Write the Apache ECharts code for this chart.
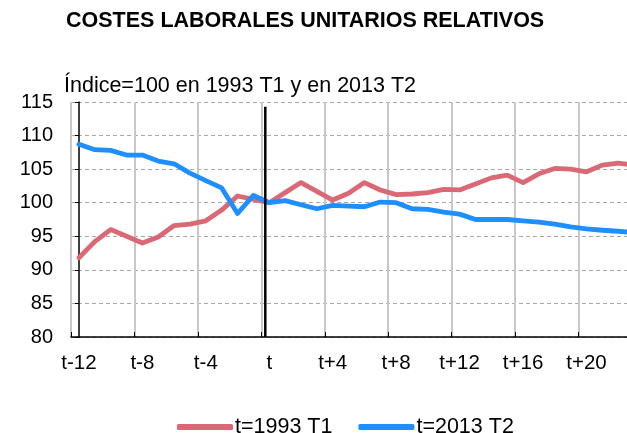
<!DOCTYPE html>
<html>
<head>
<meta charset="utf-8">
<script src="https://cdn.jsdelivr.net/npm/echarts@6/dist/echarts.min.js"></script>
<style>html,body{margin:0;padding:0;background:#fff;overflow:hidden}#c{width:642px;height:433px}</style>
</head>
<body>
<div id="c"></div>
<script>
const categories = ['t-12','t-11','t-10','t-9','t-8','t-7','t-6','t-5','t-4','t-3','t-2','t-1','t',
  't+1','t+2','t+3','t+4','t+5','t+6','t+7','t+8','t+9','t+10','t+11','t+12','t+13','t+14','t+15',
  't+16','t+17','t+18','t+19','t+20','t+21','t+22','t+23'];
const series1993 = [91.8,94.2,96.0,95.0,94.0,94.9,96.6,96.8,97.3,98.9,101.0,100.5,100.0,
  101.5,103.0,101.7,100.4,101.4,103.0,101.9,101.2,101.3,101.5,102.0,101.9,102.8,103.7,104.1,
  103.0,104.3,105.1,105.0,104.6,105.6,105.9,105.6];
const series2013 = [108.7,107.9,107.8,107.1,107.1,106.2,105.8,104.4,103.3,102.2,98.4,101.1,100.0,
  100.3,99.7,99.1,99.6,99.5,99.4,100.1,100.0,99.1,99.0,98.6,98.3,97.5,97.5,97.5,97.3,97.1,
  96.8,96.4,96.1,95.9,95.75,95.55];
const seriesNames = ['t=1993 T1','t=2013 T2'];
const yTicks = [80,85,90,95,100,105,110,115];
const dividerAt = 11.75;        // position of the vertical marker, in category index units
const dividerRange = [80, 114.3];

const FONT = 'Liberation Sans, Arial, sans-serif';
const chart = echarts.init(document.getElementById('c'), null, {renderer:'canvas'});
chart.setOption({
  animation:false,
  backgroundColor:'#fff',
  title:[
    {text:'COSTES LABORALES UNITARIOS RELATIVOS', left:66, top:10, padding:0,
     textStyle:{fontFamily:FONT, fontSize:21.5, fontWeight:'bold', color:'#000'}},
    {text:'Índice=100 en 1993 T1 y en 2013 T2', left:64, top:75, padding:0,
     textStyle:{fontFamily:FONT, fontSize:21.5, fontWeight:'normal', color:'#000'}}
  ],
  legend:{
    data:seriesNames, left:172, top:411, icon:'roundRect', itemWidth:56, itemHeight:6,
    itemGap:26, textStyle:{fontFamily:FONT, fontSize:21.5, color:'#000', padding:[0,0,0,-3]}
  },
  grid:{left:71, right:0, top:102, height:235, containLabel:false},
  xAxis:[{
    type:'category', data:categories, boundaryGap:true,
    axisLine:{show:true, lineStyle:{color:'#000', width:1.5}},
    axisTick:{show:true, inside:true, length:5, interval:3, lineStyle:{color:'#000', width:1}},
    axisLabel:{interval:3, margin:16, fontFamily:FONT, fontSize:20.5, color:'#000'},
    splitLine:{show:true, interval:3, lineStyle:{color:'#c8c8c8', width:2}}
  },{
    type:'value', min:-0.5, max:35.5, show:false
  }],
  yAxis:{
    type:'value', min:80, max:115, interval:5,
    axisLine:{show:true, lineStyle:{color:'#000', width:1.5}},
    axisTick:{show:true, length:4, lineStyle:{color:'#000'}},
    axisLabel:{margin:18, fontFamily:FONT, fontSize:20, color:'#000',
      formatter:function(v){return yTicks.indexOf(v)>=0? String(v):'';}},
    splitLine:{show:true, lineStyle:{color:'#a8a8a8', width:1, type:[4,3]}}
  },
  series:[
    {name:seriesNames[0], type:'line', data:series1993, symbol:'none', z:3,
     lineStyle:{color:'#da6975', width:4.8, cap:'round', join:'round'}, itemStyle:{color:'#da6975'}},
    {name:seriesNames[1], type:'line', data:series2013, symbol:'none', z:4,
     lineStyle:{color:'#1e8fff', width:4.8, cap:'round', join:'round'}, itemStyle:{color:'#1e8fff'}},
    {name:'divider', type:'line', xAxisIndex:1, symbol:'none', z:5,
     data:[[dividerAt, dividerRange[0]],[dividerAt, dividerRange[1]]],
     lineStyle:{color:'#000', width:2.5}, silent:true}
  ]
});
</script>
</body>
</html>
